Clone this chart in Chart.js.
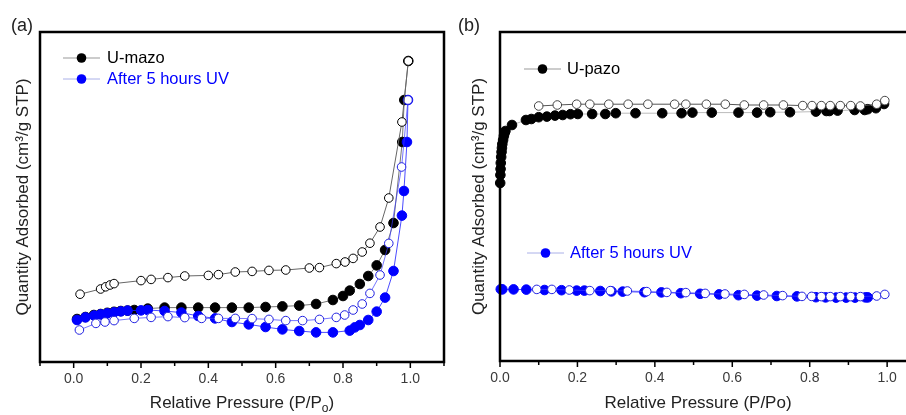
<!DOCTYPE html>
<html>
<head>
<meta charset="utf-8">
<script src="https://cdn.jsdelivr.net/npm/chart.js@4.4.1/dist/chart.umd.min.js"></script>
<style>
  html, body { margin: 0; padding: 0; background: #fff; }
  #wrap { position: relative; width: 906px; height: 415px; overflow: hidden; }
  canvas { position: absolute; top: 0; }
  #chart-a { left: 0; }
  #chart-b { left: 453px; }
</style>
</head>
<body>
<div id="wrap">
  <canvas id="chart-a" width="453" height="415"></canvas>
  <canvas id="chart-b" width="453" height="415"></canvas>
</div>
<script>
// (a) U-mazo, before and after UV
var mazoAdsP = [0.01, 0.035, 0.06, 0.08, 0.10, 0.12, 0.14, 0.16, 0.18, 0.22, 0.27, 0.32, 0.37, 0.42, 0.47, 0.52, 0.57, 0.62, 0.67, 0.72, 0.77, 0.80, 0.82, 0.85, 0.875, 0.90, 0.925, 0.95, 0.976, 0.982, 0.994];
var mazoAdsQ = [21.5, 22.5, 23.5, 24.0, 24.6, 25.1, 25.5, 25.7, 26.0, 26.7, 27.2, 27.2, 27.2, 27.2, 27.2, 27.2, 27.5, 27.8, 28.2, 29.0, 31.0, 33.0, 35.7, 39.0, 43.0, 48.3, 56.0, 69.5, 110, 131, 150.5];
var mazoDesP = [0.019, 0.08, 0.095, 0.108, 0.12, 0.20, 0.23, 0.28, 0.33, 0.40, 0.43, 0.48, 0.53, 0.58, 0.63, 0.70, 0.73, 0.78, 0.806, 0.83, 0.857, 0.88, 0.91, 0.936, 0.975, 0.994];
var mazoDesQ = [33.9, 36.5, 37.6, 38.5, 39.2, 40.7, 41.3, 42.2, 43.0, 43.3, 43.7, 45.0, 45.3, 45.8, 46.0, 47.0, 47.2, 49.2, 50.0, 51.8, 55.0, 59.4, 67.5, 82.0, 120, 150.5];
var uvAdsP = [0.01, 0.035, 0.061, 0.08, 0.10, 0.12, 0.14, 0.16, 0.20, 0.22, 0.27, 0.32, 0.37, 0.42, 0.47, 0.52, 0.57, 0.62, 0.67, 0.72, 0.77, 0.82, 0.835, 0.85, 0.875, 0.90, 0.925, 0.95, 0.975, 0.981, 0.99, 0.993];
var uvAdsQ = [21.0, 22.3, 23.2, 23.8, 24.3, 24.8, 25.3, 25.7, 25.8, 26.0, 25.5, 24.7, 23.0, 21.8, 20.0, 18.8, 17.5, 16.3, 15.5, 14.8, 14.8, 15.7, 17.3, 18.5, 21.0, 25.2, 32.2, 45.5, 73.2, 85.5, 110, 131];
var uvDesP = [0.017, 0.066, 0.093, 0.12, 0.18, 0.23, 0.28, 0.33, 0.38, 0.43, 0.48, 0.53, 0.58, 0.63, 0.68, 0.73, 0.78, 0.805, 0.83, 0.857, 0.88, 0.91, 0.936, 0.974, 0.993];
var uvDesQ = [16.0, 19.3, 20.0, 20.7, 21.8, 22.3, 22.7, 22.2, 21.8, 21.8, 21.8, 21.7, 21.3, 20.7, 20.7, 21.3, 22.3, 23.5, 26.0, 29.0, 34.3, 43.5, 59.3, 97.5, 131];

// (b) U-pazo, before and after UV
var pazoAdsP = [0.0005, 0.001, 0.0015, 0.002, 0.003, 0.004, 0.005, 0.006, 0.008, 0.010, 0.012, 0.014, 0.031, 0.067, 0.081, 0.10, 0.121, 0.142, 0.162, 0.182, 0.201, 0.238, 0.272, 0.299, 0.35, 0.419, 0.469, 0.497, 0.547, 0.616, 0.664, 0.698, 0.749, 0.816, 0.843, 0.851, 0.872, 0.916, 0.942, 0.95, 0.971, 0.992];
var pazoAdsQ = [89, 93, 96, 99, 102, 104.5, 106.5, 108.5, 110.5, 112.5, 114, 115, 118, 120.5, 121, 121.9, 122.2, 122.7, 123, 123.4, 123.5, 123.5, 123.5, 123.9, 123.9, 123.9, 123.9, 124.2, 124.2, 124.2, 124.2, 124.4, 124.4, 124.7, 125, 125, 125.2, 125.5, 125.5, 125.9, 126.4, 128.5];
var pazoDesP = [0.10, 0.148, 0.198, 0.232, 0.281, 0.331, 0.382, 0.451, 0.48, 0.533, 0.582, 0.631, 0.681, 0.732, 0.782, 0.806, 0.83, 0.853, 0.879, 0.906, 0.931, 0.973, 0.994];
var pazoDesQ = [127.5, 128, 128.4, 128.4, 128.4, 128.4, 128.4, 128.4, 128.4, 128.4, 128.4, 128, 128, 128, 127.7, 127.7, 127.7, 127.7, 127.7, 127.7, 127.5, 128.4, 130.2];
var uvbAdsP = [0.002, 0.006, 0.035, 0.068, 0.115, 0.159, 0.198, 0.218, 0.259, 0.288, 0.317, 0.373, 0.417, 0.467, 0.517, 0.566, 0.616, 0.664, 0.715, 0.767, 0.816, 0.841, 0.868, 0.894, 0.917, 0.944, 0.95];
var uvbAdsQ = [35.9, 35.8, 35.8, 35.7, 35.5, 35.4, 35.2, 35.2, 35.0, 34.8, 34.7, 34.4, 34.3, 33.9, 33.6, 33.3, 32.9, 32.7, 32.5, 32.3, 31.9, 31.8, 31.7, 31.7, 31.7, 31.8, 31.8];
var uvbDesP = [0.095, 0.134, 0.179, 0.232, 0.285, 0.329, 0.379, 0.431, 0.48, 0.53, 0.581, 0.631, 0.681, 0.73, 0.78, 0.805, 0.83, 0.853, 0.879, 0.906, 0.931, 0.973, 0.994];
var uvbDesQ = [35.8, 35.8, 35.5, 35.2, 35.2, 35.0, 34.7, 34.3, 34.2, 33.8, 33.5, 33.3, 33.0, 32.7, 32.3, 32.3, 32.2, 32.2, 32.2, 32.2, 32.2, 32.5, 33.3];

var FONT = "'Liberation Sans', Arial, sans-serif";
var BLUE = "#0000ff";
Chart.defaults.font.family = FONT;

function pts(p, q) {
  return p.map(function (x, i) { return { x: x, y: q[i] }; });
}

function series(p, q, open, color, lineColor) {
  return {
    data: pts(p, q),
    borderColor: lineColor,
    borderWidth: 1,
    pointRadius: open ? 4.3 : 4.8,
    pointHoverRadius: open ? 4.3 : 4.8,
    pointBackgroundColor: open ? "#fff" : color,
    pointBorderColor: color,
    pointBorderWidth: 1,
    tension: 0,
    clip: false
  };
}

// labels only on 0.0, 0.2 ... 1.0, minor ticks every 0.1
function tickLabel(v) {
  var k = v * 5;
  if (Math.abs(k - Math.round(k)) < 1e-6 && v > -1e-6 && v < 1 + 1e-6) return v.toFixed(1);
  return "";
}

// box, outward x ticks, legend, panel tag and x title
var decor = {
  id: "decor",
  afterDatasetsDraw: function (chart, args, o) {
    var ctx = chart.ctx, a = chart.chartArea, xs = chart.scales.x;
    ctx.save();
    ctx.strokeStyle = "#000";
    ctx.lineWidth = 2.5;
    ctx.beginPath();
    if (o.openRight) {
      ctx.moveTo(chart.width, a.top);
      ctx.lineTo(a.left, a.top);
      ctx.lineTo(a.left, a.bottom);
      ctx.lineTo(chart.width, a.bottom);
    } else {
      ctx.rect(a.left, a.top, a.right - a.left, a.bottom - a.top);
    }
    ctx.stroke();

    ctx.lineWidth = 1.5;
    xs.ticks.forEach(function (t) {
      var px = xs.getPixelForValue(t.value);
      ctx.beginPath();
      ctx.moveTo(px, a.bottom);
      ctx.lineTo(px, a.bottom + (t.label ? 6 : 4));
      ctx.stroke();
    });

    ctx.font = "16.5px " + FONT;
    ctx.textBaseline = "middle";
    o.legend.forEach(function (it) {
      ctx.strokeStyle = it.lineColor;
      ctx.lineWidth = 1;
      ctx.beginPath();
      ctx.moveTo(it.x1, it.y);
      ctx.lineTo(it.x2, it.y);
      ctx.stroke();
      ctx.fillStyle = it.color;
      ctx.beginPath();
      ctx.arc((it.x1 + it.x2) / 2, it.y, 4.8, 0, Math.PI * 2);
      ctx.fill();
      ctx.fillText(it.text, it.tx, it.y);
    });

    ctx.fillStyle = "#222";
    ctx.font = "18px " + FONT;
    ctx.textBaseline = "alphabetic";
    ctx.textAlign = "left";
    ctx.fillText(o.tag, o.tagX, 31);

    // x title, with an optional subscript on the last P
    var t = o.xTitle, sub = o.xSub, end = ")";
    var main = "17px " + FONT, small = "12px " + FONT;
    ctx.font = main;
    var w = ctx.measureText(t).width + ctx.measureText(end).width;
    var ws = 0;
    if (sub) { ctx.font = small; ws = ctx.measureText(sub).width; }
    var cx = (a.left + Math.min(a.right, chart.width)) / 2;
    var x = cx - (w + ws) / 2, y = 408;
    ctx.font = main;
    ctx.fillText(t, x, y);
    x += ctx.measureText(t).width;
    if (sub) {
      ctx.font = small;
      ctx.fillText(sub, x, y + 4);
      x += ws;
      ctx.font = main;
    }
    ctx.fillText(end, x, y);
    ctx.restore();
  }
};

function makeChart(id, datasets, xMax, yMax, yWidth, xHeight, padRight, titlePad, deco) {
  return new Chart(document.getElementById(id).getContext("2d"), {
    type: "line",
    data: { datasets: datasets },
    options: {
      responsive: false,
      animation: false,
      events: [],
      layout: { padding: { top: 32, right: padRight, left: 0, bottom: 0 } },
      plugins: { legend: { display: false }, tooltip: { enabled: false }, decor: deco },
      scales: {
        x: {
          type: "linear",
          min: deco.xMin,
          max: xMax,
          grid: { display: false, drawTicks: false },
          border: { display: false },
          ticks: {
            stepSize: 0.1,
            includeBounds: false,
            autoSkip: false,
            maxRotation: 0,
            padding: 9,
            color: "#3a3a3a",
            font: { size: 14 },
            callback: tickLabel
          },
          afterFit: function (s) { s.height = xHeight; }
        },
        y: {
          min: 0,
          max: yMax,
          grid: { display: false, drawTicks: false },
          border: { display: false },
          ticks: { display: false },
          title: {
            display: true,
            text: "Quantity Adsorbed (cm\u00b3/g STP)",
            color: "#222",
            font: { size: 17 },
            padding: { top: titlePad, bottom: 0 }
          },
          afterFit: function (s) { s.width = yWidth; }
        }
      }
    },
    plugins: [decor]
  });
}

document.addEventListener("DOMContentLoaded", function () {
  makeChart("chart-a", [
    series(mazoDesP, mazoDesQ, true, "#000", "#666"),
    series(uvDesP, uvDesQ, true, "#2020e0", "rgba(60,60,255,0.7)"),
    series(uvAdsP, uvAdsQ, false, BLUE, "rgba(30,30,255,0.8)"),
    series(mazoAdsP, mazoAdsQ, false, "#000", "#777")
  ], 1.1, 165, 40, 53, 5, 13, {
    xMin: -0.1,
    tag: "(a)", tagX: 11,
    xTitle: "Relative Pressure (P/P", xSub: "o",
    legend: [
      { text: "U-mazo", color: "#000", lineColor: "#999", x1: 63, x2: 100, tx: 107, y: 58 },
      { text: "After 5 hours UV", color: BLUE, lineColor: "#aab0e8", x1: 63, x2: 100, tx: 107, y: 79 }
    ]
  });

  makeChart("chart-b", [
    series(uvbDesP, uvbDesQ, true, "#2020e0", "rgba(60,60,255,0.7)"),
    series(uvbAdsP, uvbAdsQ, false, BLUE, "rgba(30,30,255,0.8)"),
    series(pazoDesP, pazoDesQ, true, "#444", "#555"),
    series(pazoAdsP, pazoAdsQ, false, "#000", "#bbb")
  ], 1.023, 164.5, 47, 54, 0, 16, {
    xMin: 0,
    openRight: true,
    tag: "(b)", tagX: 5,
    xTitle: "Relative Pressure (P/Po", xSub: "",
    legend: [
      { text: "U-pazo", color: "#000", lineColor: "#999", x1: 71, x2: 108, tx: 114, y: 69 },
      { text: "After 5 hours UV", color: BLUE, lineColor: "#aab0e8", x1: 74, x2: 111, tx: 117, y: 253 }
    ]
  });
});
</script>
</body>
</html>
